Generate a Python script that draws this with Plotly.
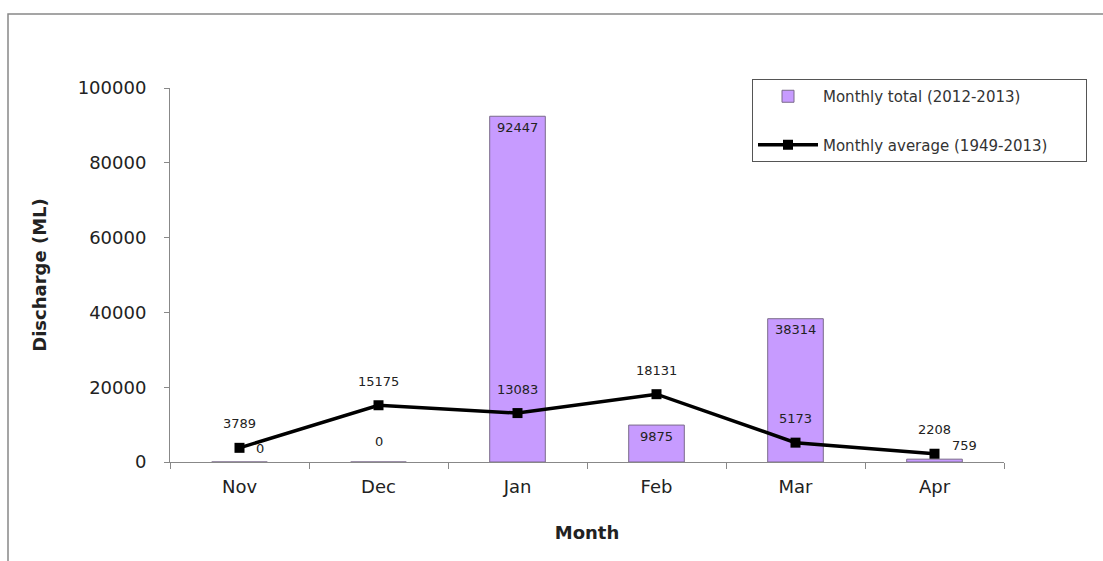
import plotly.graph_objects as go

months = ["Nov", "Dec", "Jan", "Feb", "Mar", "Apr"]
monthly_total = [0, 0, 92447, 9875, 38314, 759]
monthly_avg = [3789, 15175, 13083, 18131, 5173, 2208]
y_ticks = [0, 20000, 40000, 60000, 80000, 100000]

FONT = "DejaVu Sans, Liberation Sans, Arial, sans-serif"
W, H = 1103, 561
L, R, T, B = 170, 99, 88, 99
pw, ph = W - L - R, H - T - B

fig = go.Figure()
fig.add_trace(go.Bar(
    x=months, y=monthly_total, name="Monthly total (2012-2013)           ",
    marker=dict(color="#C79BFF", line=dict(color="#7A6A8A", width=1)),
    width=0.4, legendgroup="a",
))
fig.add_trace(go.Scatter(
    x=months, y=monthly_avg, name="Monthly average (1949-2013)       ",
    mode="lines+markers",
    line=dict(color="black", width=3.5),
    marker=dict(symbol="square", size=10, color="black"),
    legendgroup="b",
))

ann = []
for i, (m, v) in enumerate(zip(months, monthly_total)):
    if i == 0:
        ann.append(dict(x=m, y=v, text=str(v), xshift=20, yshift=14))
    elif i == 5:
        ann.append(dict(x=m, y=v, text=str(v), xshift=30, yshift=14))
    elif v == 0:
        ann.append(dict(x=m, y=v, text=str(v), yshift=21))
    else:
        ann.append(dict(x=m, y=v, text=str(v), yshift=-11))
for i, (m, v) in enumerate(zip(months, monthly_avg)):
    ann.append(dict(x=m, y=v, text=str(v), yshift=24))
for a in ann:
    a.update(showarrow=False, xref="x", yref="y",
             font=dict(family=FONT, size=13, color="#222"))

fig.update_layout(
    width=W, height=H,
    margin=dict(l=L, r=R, t=T, b=B, autoexpand=False),
    paper_bgcolor="white", plot_bgcolor="white",
    font=dict(family=FONT, color="#222"),
    annotations=ann,
    showlegend=True,
    legend=dict(
        x=(752 - L) / pw, y=(H - B - 79) / ph, xanchor="left", yanchor="top",
        bordercolor="#555", borderwidth=1, bgcolor="white",
        font=dict(family=FONT, size=15, color="#333"),
        tracegroupgap=26, traceorder="grouped", itemwidth=60,
    ),
    xaxis=dict(
        type="category", range=[-0.5, 5.5],
        showline=True, linecolor="#888", linewidth=1,
        ticks="outside", tickson="boundaries", ticklen=6, tickcolor="#888",
        tickfont=dict(family=FONT, size=18, color="#222"),
        ticklabelstandoff=8,
        title=dict(text="<b>Month</b>", font=dict(family=FONT, size=18, color="#222"), standoff=30),
        showgrid=False, zeroline=False,
    ),
    yaxis=dict(
        range=[0, 100000], tickvals=y_ticks, tickformat="d",
        showline=True, linecolor="#888", linewidth=1,
        ticks="outside", ticklen=5, tickcolor="#888",
        tickfont=dict(family=FONT, size=18, color="#222"),
        ticklabelstandoff=14,
        title=dict(text="<b>Discharge (ML)</b>", font=dict(family=FONT, size=18, color="#222"), standoff=26),
        showgrid=False, zeroline=False,
    ),
    shapes=[
        dict(type="path", xref="paper", yref="paper",
             path=f"M {(8 - L) / pw} -1 L {(8 - L) / pw} {(H - B - 14) / ph} L 1.3 {(H - B - 14) / ph}",
             line=dict(color="#888", width=1.5)),
    ],
)

fig.write_html("out.html")
